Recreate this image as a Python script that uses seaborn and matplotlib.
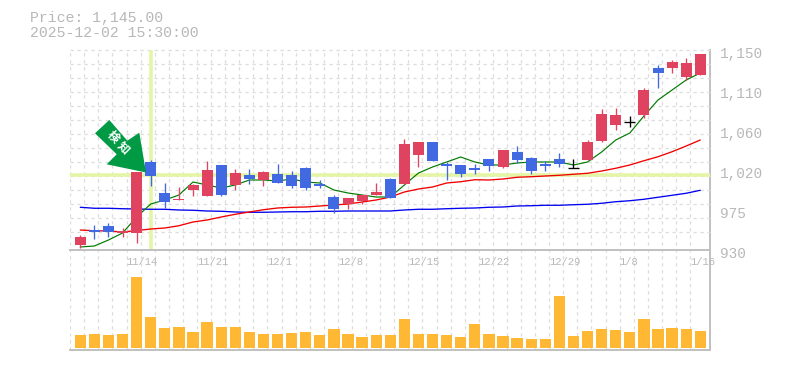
# -*- coding: utf-8 -*-
import numpy as np
import pandas as pd
import seaborn as sns
import matplotlib.pyplot as plt
from matplotlib.patches import Polygon
from matplotlib.transforms import ScaledTranslation

## data
opens = [935.5,952,956.4,948.4,948.7,1026.8,992.7,985,996,989.4,1023.5,1001.5,1012.5,1007,1013.6,
         1012.5,1020.2,1002.6,988.3,980.6,983.9,990.5,1008.1,1002.6,1034.5,1048.8,1024.6,1023.5,1020.2,1030.1,
         1021.3,1037.8,1031.2,1024.6,1030.1,1020.2,1029,1049.9,1067.5,1070.8,1078.5,1130.2,1130.2,1120.3,1122.5]
closes = [944.3,950.1,950.1,950.6,1015.8,1011.4,982.8,986.1,1001.5,1018,990.5,1014.7,1008.1,1015.8,1003.7,
          1000.4,998.2,1000.4,975.1,987.2,990.5,993.8,987.2,1046.6,1048.8,1027.9,1022.4,1013.6,1018,1022.4,
          1040,1029,1016.9,1022.4,1024.6,1020.2,1048.8,1079.6,1078.5,1070.8,1106,1124.7,1136.8,1135.7,1145.6]
highs = [946.5,957.5,959.7,954.2,1015.8,1029,1003.7,999.3,1002.6,1027.9,1023.5,1019.1,1019.1,1016.9,1024.6,
         1016.9,1021.3,1007,990.5,987.2,990.5,1003.7,1009.2,1052.1,1048.8,1048.8,1026.8,1023.5,1024.6,1030.1,
         1040,1044.4,1032.3,1027.9,1036.7,1030.1,1051,1085.1,1086.2,1077.4,1108.2,1133.5,1139,1141.2,1145.6]
lows = [932.2,942.1,944.6,944.6,937.7,1000.4,976.2,985,989.4,989.4,989.4,996,1002.6,1000.4,1003.7,
        998.2,996,998.2,970.7,975.1,980.6,990.5,987.2,1002.6,1021.3,1027.9,1007,1010.3,1013.6,1016.9,
        1020.2,1025.7,1013.6,1016.9,1021.3,1020.2,1029,1048.8,1062,1065.3,1075.2,1108.2,1124.7,1117,1122.5]

ma_short = [933.3,934.4,941,948.7,966.3,980.6,985,990.5,1004.8,1001.5,998.2,1001.5,1007,1007,1005.9,
            1008.1,1004.8,1003.7,996,992.7,990.5,988.3,988.3,1001.5,1014.7,1021.3,1026.8,1032.3,1026.8,1023.5,
            1023.5,1025.7,1026.8,1026.8,1026.8,1023.5,1026.8,1037.8,1051,1058.7,1077.4,1095,1106,1117,1124.7]
ma_mid = [952,951.2,950.9,949.8,951.4,953.1,954.2,956.7,960.8,963,966.3,969.3,971.8,974.3,976.2,
          977,977.3,978.4,979.5,980.6,982.8,985,988.3,993.8,997.1,999.3,1003.7,1005.1,1007.3,1007,
          1008.1,1010,1010.6,1011.4,1012.2,1013.3,1014.4,1016.9,1019.9,1023.5,1028.2,1032.6,1038.1,1044.4,1051]
ma_long = [977,975.9,975.9,975.4,975.1,974.8,974.8,974,973.7,972.9,972.6,971.8,971.5,971.5,971.8,
           972.1,972.1,972.6,972.6,972.9,972.9,972.9,972.9,974,974.8,974.8,975.4,975.9,976.2,977,
           977.3,978.4,978.7,979.2,979.2,979.8,980.3,981.4,983.1,984.2,985.8,988,990.2,992.4,995.7]

volume = [13,14,13,14,71,31,20,21,16,26,21,21,16,14,14,15,16,13,19,14,11,13,13,
          29,14,14,13,11,24,14,12,10,9,9,52,12,17,19,18,16,29,19,20,19,17]

date_idx = [4,9,14,19,24,29,34,39,44]
date_labels = ["11/14","11/21","12/1","12/8","12/15","12/22","12/29","1/8","1/16"]
price_ticks = [1150,1106,1062,1018,974,930]
price_labels = ["1,150","1,110","1,060","1,020","975","930"]
title_lines = ["Price: 1,145.00","2025-12-02 15:30:00"]
signal_idx = 5
signal_price = 1012.5

df = pd.DataFrame({"day":np.arange(len(closes)),"open":opens,"close":closes,"high":highs,"low":lows,
                   "short":ma_short,"mid":ma_mid,"long":ma_long,"volume":volume})

sns.set_style("white")
plt.rcParams['font.family'] = ['Liberation Mono','DejaVu Sans Mono']

RED = "#E0435F"
BLUE = "#4169E1"
ORANGE = "#FFB833"
HILITE = "#E4F5A6"
GREY = "#B8B8B8"
LINEGREY = "#C0C0C0"
GRID = "#DCDCDC"
W,H = 785.0,370.0
XLIM = (-0.731,44.69)

def axbox(x0,y0,x1,y1):
    return [x0/W,1-y1/H,(x1-x0)/W,(y1-y0)/H]

fig = plt.figure(figsize=(7.85,3.7),dpi=100)
ax_bg = fig.add_axes(axbox(70,50,710,350))
ax = fig.add_axes(axbox(70,50,710,250))
ax_vol = fig.add_axes(axbox(70,270,710,350))

##--- background: vertical grid runs through both panels
ax_bg.vlines(df["day"]-0.72,0,1,color=GRID,lw=0.9,linestyles=(0,(2.6,3)),zorder=1)
ax_bg.set_xlim(XLIM)
ax_bg.set_ylim(0,1)
ax_bg.set_xticks([])
ax_bg.set_yticks([])
for side in ["top","left"]:
    ax_bg.spines[side].set_visible(False)
for side in ["right","bottom"]:
    ax_bg.spines[side].set_color(LINEGREY)
    ax_bg.spines[side].set_linewidth(1.4)

##--- price panel
ax.patch.set_alpha(0)
ax.set_xlim(XLIM)
ax.set_ylim(930,1150)
for i in range(14):
    ax.axhline(1150-15.4*i,color=GRID,lw=0.9,ls=(0,(2.6,3)),zorder=1,clip_on=False)
ax.axvline(signal_idx,color=HILITE,lw=2.6,zorder=2)
ax.axhline(signal_price,color=HILITE,lw=2.6,zorder=2)

sns.lineplot(data=df,x="day",y="long",color="#0000F0",lw=0.95,ax=ax,zorder=3)
sns.lineplot(data=df,x="day",y="mid",color="#F00000",lw=0.95,ax=ax,zorder=3)
sns.lineplot(data=df,x="day",y="short",color="#007A00",lw=0.85,ax=ax,zorder=3)

for row in df.itertuples():
    if row.close>row.open:
        c = RED
    elif row.close<row.open:
        c = BLUE
    else:
        c = "black"
    ax.vlines(row.day,row.low,row.high,color=c,lw=0.95,zorder=4)
    if c=="black":
        ax.hlines(row.close,row.day-0.39,row.day+0.39,color=c,lw=0.95,zorder=4)
    else:
        ax.bar(row.day,abs(row.close-row.open),bottom=min(row.open,row.close),width=0.78,color=c,lw=0,zorder=5)

ax.set_xlim(XLIM)
ax.set_ylim(930,1150)
ax.set_xlabel("")
ax.set_ylabel("")
for side in ["top","left","right"]:
    ax.spines[side].set_visible(False)
ax.spines["bottom"].set_color(LINEGREY)
ax.spines["bottom"].set_linewidth(1.4)
ax.yaxis.tick_right()
ax.set_yticks(price_ticks)
ax.set_yticklabels(price_labels,fontsize=10.4,color=GREY,va="center")
ax.tick_params(axis="y",length=0,pad=7)
shift = ScaledTranslation(0,-3/72.0,fig.dpi_scale_trans)
for lab in ax.get_yticklabels():
    lab.set_transform(lab.get_transform()+shift)
ax.set_xticks(np.array(date_idx)-0.72)
ax.set_xticklabels(date_labels,fontsize=7.6,color=GREY,ha="left")
ax.tick_params(axis="x",length=0,pad=5)

##--- volume panel
ax_vol.patch.set_alpha(0)
sns.barplot(data=df,x="day",y="volume",native_scale=True,color=ORANGE,saturation=1,width=0.8,linewidth=0,ax=ax_vol,zorder=3)
ax_vol.set_xlim(XLIM)
ax_vol.set_ylim(-2,78)
ax_vol.set_xlabel("")
ax_vol.set_ylabel("")
ax_vol.set_xticks([])
ax_vol.set_yticks([])
sns.despine(ax=ax_vol,left=True,bottom=True)

##--- header text
fig.text(30/W,1-18/H,title_lines[0],fontsize=10.75,color=GREY,va="center",ha="left")
fig.text(30/W,1-33/H,title_lines[1],fontsize=10.75,color=GREY,va="center",ha="left")

##--- signal arrow, placed by figure position
arrow_px = [(95,133.3),(109.3,120),(127.3,140.7),(139.3,132.7),(146,172.5),(106.7,164.3),(116.7,154.3)]
arrow_fig = [(x/W,1-y/H) for x,y in arrow_px]
fig.add_artist(Polygon(arrow_fig,closed=True,transform=fig.transFigure,facecolor="#009A44",edgecolor="none",zorder=10))
for ch,x,y in [("検",112.7,136.7),("知",123.3,147.3)]:
    fig.text(x/W,1-y/H,ch,family=['Noto Sans CJK JP','DejaVu Sans'],fontsize=8.5,fontweight="bold",
             color="white",rotation=-45,ha="center",va="center",zorder=11)

fig.savefig("out.png",dpi=100)
